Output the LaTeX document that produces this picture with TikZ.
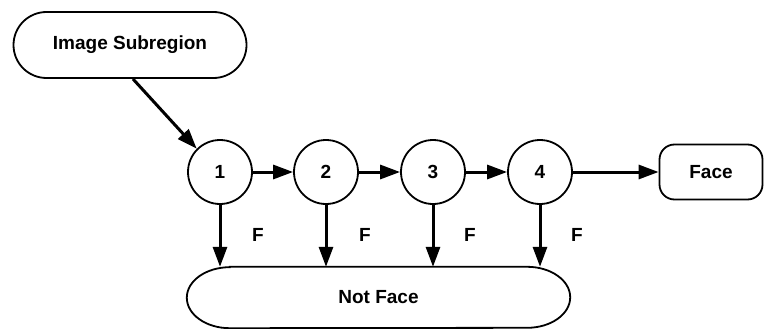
\documentclass[tikz,border=0pt]{standalone}
\usepackage{fontspec}
\setmainfont{Liberation Sans}
\usetikzlibrary{arrows.meta,shapes.misc}
\begin{document}
\begin{tikzpicture}[x=1pt,y=-1pt,
  font=\fontsize{19}{22}\selectfont\bfseries,
  stage/.style={circle,draw,line width=1.8pt,minimum size=64pt,inner sep=0pt},
  pill/.style={rounded rectangle,draw,line width=1.8pt,inner sep=0pt},
  result/.style={rectangle,rounded corners=15pt,draw,line width=1.8pt,inner sep=0pt},
  flow/.style={line width=3pt,-{Triangle[length=20pt,width=14pt]}},
  flag/.style={font=\fontsize{19}{22}\selectfont\bfseries}]
\useasboundingbox (0,0) rectangle (765,329);

% input region
\node[pill,minimum width=233pt,minimum height=66pt] (img) at (130,45) {Image Subregion};

% cascade stages
\node[stage] (c1) at (220,172) {1};
\node[stage] (c2) at (326,172) {2};
\node[stage] (c3) at (433,172) {3};
\node[stage] (c4) at (540,172) {4};

% outcomes
\node[result,minimum width=103pt,minimum height=55pt] (face) at (711,172) {Face};
\node[minimum width=383pt,minimum height=61pt,inner sep=0pt] (nf) at (378.5,297.5) {Not Face};
% rejection bin outline with elliptical ends
\draw[line width=1.8pt]
  ([xshift=43pt]nf.north west) -- ([xshift=-43pt]nf.north east)
  arc[start angle=-90,end angle=90,x radius=43,y radius=30.5]
  -- ([xshift=43pt]nf.south west)
  arc[start angle=90,end angle=270,x radius=43,y radius=30.5] -- cycle;

% accepted path
\coordinate (src) at (133,79);
\draw[flow] (src) -- (c1.135);
\draw[flow] (c1) -- (c2);
\draw[flow] (c2) -- (c3);
\draw[flow] (c3) -- (c4);
\draw[flow] (c4) -- (face);

% rejections
\foreach \s/\lx in {c1/258,c2/365,c3/470,c4/577}{
  \draw[flow] (\s.south) -- (\s.south |- nf.north);
  \node[flag] (f\s) at (\lx,235) {F};
}
\end{tikzpicture}
\end{document}
